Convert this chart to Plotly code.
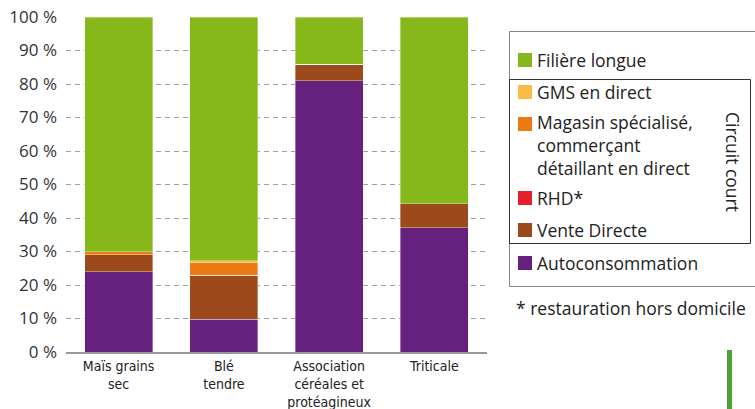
import plotly.graph_objects as go

categories = ["Maïs grains<br>sec", "Blé<br>tendre", "Association<br>céréales et<br>protéagineux", "Triticale"]

autoconsommation = [24.0, 9.8, 81.0, 37.1]
vente_directe = [5.0, 13.1, 4.9, 7.1]
rhd = [0.0, 0.0, 0.0, 0.0]
magasin = [0.9, 3.8, 0.0, 0.0]
gms = [0.0, 0.6, 0.0, 0.0]
filiere_longue = [70.1, 72.7, 14.1, 55.8]

series_names = ["Autoconsommation", "Vente Directe", "RHD*",
                "Magasin spécialisé,<br>commerçant<br>détaillant en direct",
                "GMS en direct", "Filière longue"]
series_values = [autoconsommation, vente_directe, rhd, magasin, gms, filiere_longue]
series_colors = ["#66217f", "#9c4a1c", "#e4202a", "#ee7a14", "#f9bd45", "#86b81b"]

y_ticks = [0, 10, 20, 30, 40, 50, 60, 70, 80, 90, 100]
y_ticktext = [f"{v} %" for v in y_ticks]

W, H = 755, 409
L, R, T, B = 66, 487, 17, 352


def px(x):
    return (x - L) / (R - L)


def py(y):
    return (B - y) / (B - T)


fig = go.Figure()
for name, vals, col in zip(series_names, series_values, series_colors):
    fig.add_trace(go.Bar(x=categories, y=vals, name=name, marker_color=col,
                         marker_line=dict(color="rgba(255,255,255,0.45)", width=0.8),
                         showlegend=False))

font_main = "'Open Sans', Roboto, sans-serif"
leg_size = 17.5

fig.update_layout(
    width=W, height=H,
    margin=dict(l=L, r=W - R, t=T, b=H - B),
    barmode="stack", bargap=0.354,
    plot_bgcolor="white", paper_bgcolor="white",
    font=dict(family=font_main, color="#333333"),
    xaxis=dict(showline=True, linecolor="#999999", linewidth=2, ticks="", automargin=False,
               tickfont=dict(family="'Liberation Sans Narrow', 'DejaVu Sans Condensed', Roboto, sans-serif",
                             size=14, color="#222222"),
               showgrid=False),
    yaxis=dict(range=[0, 100], tickmode="array", tickvals=y_ticks, ticktext=y_ticktext, showgrid=True,
               gridcolor="#a0a0a0", griddash="5px,4px", gridwidth=1, zeroline=False, automargin=False,
               tickfont=dict(size=17, color="#333333", family=font_main), ticks="", ticklabelstandoff=8),
)

# legend boxes
fig.add_shape(type="rect", xref="paper", yref="paper", x0=px(509.5), x1=px(760), y0=py(286.5), y1=py(31.5),
              line=dict(color="#888888", width=1))
fig.add_shape(type="rect", xref="paper", yref="paper", x0=px(509.5), x1=px(750.5), y0=py(243.5), y1=py(79.5),
              line=dict(color="#333333", width=1))

legend_rows = [  # (series index, y center of first line in px, y center of text block in px)
    (5, 60, 60), (4, 92, 92), (3, 124, 145), (2, 198, 198), (1, 230, 230), (0, 263, 263)
]
for idx, ysq, ytxt in legend_rows:
    fig.add_shape(type="rect", xref="paper", yref="paper", x0=px(518), x1=px(532),
                  y0=py(ysq + 7), y1=py(ysq - 7), fillcolor=series_colors[idx], line_width=0)
    fig.add_annotation(xref="paper", yref="paper", x=px(535), y=py(ytxt),
                       xanchor="left", yanchor="middle",
                       text=series_names[idx], showarrow=False, align="left",
                       font=dict(size=leg_size, color="#222222", family=font_main))

fig.add_annotation(xref="paper", yref="paper", x=px(733), y=py(162), text="Circuit court", textangle=90,
                   showarrow=False, xanchor="center", yanchor="middle",
                   font=dict(size=leg_size, color="#222222", family=font_main))
fig.add_annotation(xref="paper", yref="paper", x=px(514), y=py(308), text="* restauration hors domicile",
                   showarrow=False, xanchor="left", yanchor="middle",
                   font=dict(size=leg_size, color="#222222", family=font_main))
fig.add_shape(type="line", xref="paper", yref="paper", x0=px(729.5), x1=px(729.5), y0=py(350), y1=py(412),
              line=dict(color="#4ba232", width=5))

fig.write_html("out.html")
